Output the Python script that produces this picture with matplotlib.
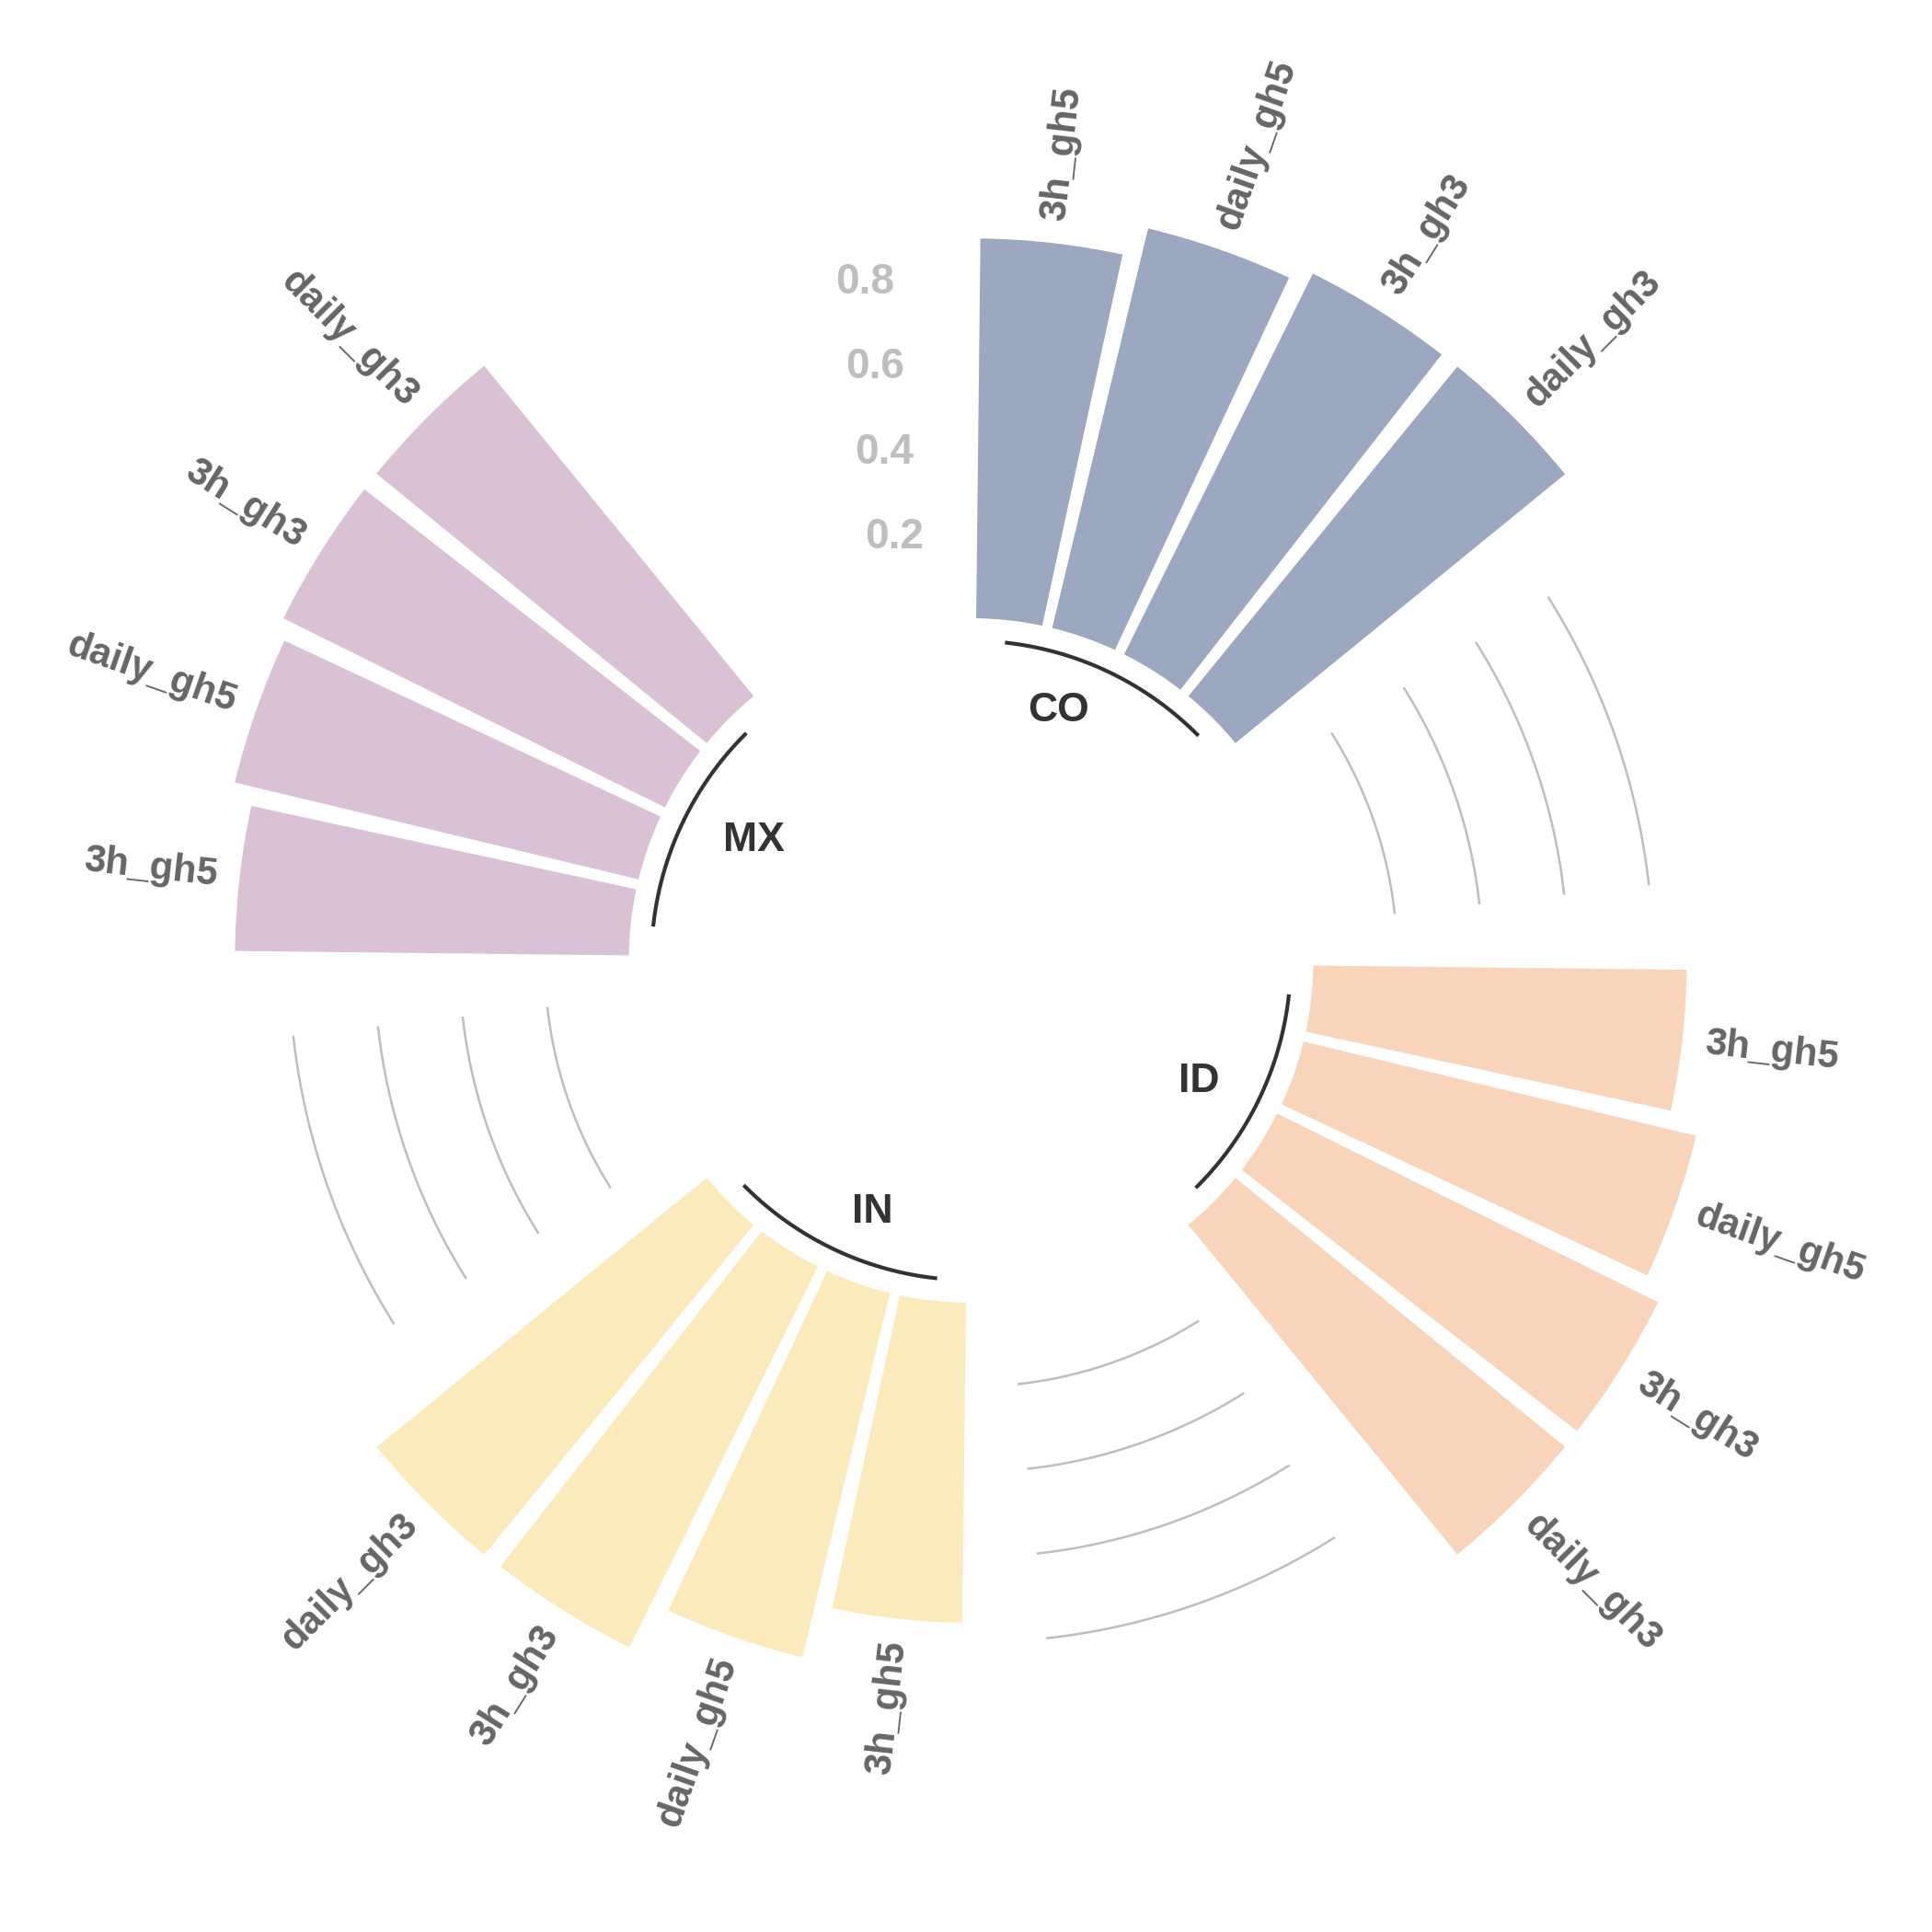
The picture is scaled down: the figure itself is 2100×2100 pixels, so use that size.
import numpy as np
import matplotlib
matplotlib.use("Agg")
import matplotlib.pyplot as plt

# ---------------- data ----------------
GROUPS = ["CO", "ID", "IN", "MX"]
NAMES = ["3h_gh5", "daily_gh5", "3h_gh3", "daily_gh3"]
CO_VALUES = [0.897, 0.970, 1.003, 1.004]
ID_VALUES = [0.882, 0.953, 1.003, 1.004]
IN_VALUES = [0.757, 0.885, 1.003, 1.005]
MX_VALUES = [0.930, 0.980, 1.005, 1.006]
TICK_VALUES = [0.2, 0.4, 0.6, 0.8]
TICK_LABELS = ["0.2", "0.4", "0.6", "0.8"]

GROUP_COLORS = ["#9BA8BF", "#F8D4BB", "#FBEBBC", "#D9C1D6"]

# group label placement (theta offset in slots from group start, radius)
GROUP_LABEL_THETA_DEG = [19.3, 117.9, 201.4, 299.0]
GROUP_LABEL_R = [-0.178, -0.194, -0.167, -0.217]

plt.rcParams["font.family"] = ["Liberation Sans", "DejaVu Sans"]

VALUES_BY_GROUP = [CO_VALUES, ID_VALUES, IN_VALUES, MX_VALUES]
VALUES = np.concatenate(VALUES_BY_GROUP)
LABELS = NAMES * len(GROUPS)

PAD = 3
GROUPS_SIZE = [len(v) for v in VALUES_BY_GROUP]
ANGLES_N = len(VALUES) + PAD * len(GROUPS)
WIDTH = 2 * np.pi / ANGLES_N
ANGLES = np.arange(ANGLES_N) * WIDTH + WIDTH / 2

IDXS = []
offset = 0
for size in GROUPS_SIZE:
    IDXS += list(range(offset, offset + size))
    offset += size + PAD

COLORS = [GROUP_COLORS[g] for g, size in enumerate(GROUPS_SIZE) for _ in range(size)]

fig = plt.figure(figsize=(10.5, 10.5), dpi=200)
ax = fig.add_axes([0.06138, 0.06162, 0.88248, 0.88248], projection="polar")
ax.set_theta_offset(np.pi / 2)
ax.set_theta_direction(-1)
ax.set_ylim(-0.8, 1.2)
ax.set_frame_on(False)
ax.xaxis.grid(False)
ax.yaxis.grid(False)
ax.set_xticks([])
ax.set_yticks([])

ax.bar(ANGLES[IDXS], VALUES, width=WIDTH * 0.9, color=COLORS,
       edgecolor="white", linewidth=1)

# bar labels
pad = 0.05
for ang, val, lab in zip(ANGLES[IDXS], VALUES, LABELS):
    disp = np.rad2deg(np.pi / 2 - ang)  # display angle (counterclockwise from +x)
    disp = (disp + 180) % 360 - 180
    if -90 <= disp <= 90:
        rot, ha = disp, "left"
    else:
        rot, ha = disp + 180, "right"
    ax.text(ang, val + pad, lab, ha=ha, va="center", rotation=rot,
            rotation_mode="anchor", color="#666666", fontsize=15,
            fontweight="bold")

# group lines, labels, reference arcs
offset = 0
for g, (group, size) in enumerate(zip(GROUPS, GROUPS_SIZE)):
    x1 = np.linspace(ANGLES[offset], ANGLES[offset + size - 1], num=50)
    ax.plot(x1, [-0.05] * 50, color="#333333", lw=1.5)
    ax.text(np.deg2rad(GROUP_LABEL_THETA_DEG[g]), GROUP_LABEL_R[g], group,
            color="#333333", fontsize=16, fontweight="bold",
            ha="center", va="center")
    if g < len(GROUPS) - 1:
        x2 = np.linspace(ANGLES[offset + size], ANGLES[offset + size + PAD - 1], num=50)
        for t in TICK_VALUES:
            ax.plot(x2, [t] * 50, color="#bebebe", lw=0.9)
    offset += size + PAD

# tick labels in the last gap
for t, lab in zip(TICK_VALUES, TICK_LABELS):
    ax.text(ANGLES[-1], t, lab, ha="right", va="center", color="#bebebe",
            fontsize=16.5, fontweight="bold")

fig.savefig("out.png", dpi=200, facecolor="white")
